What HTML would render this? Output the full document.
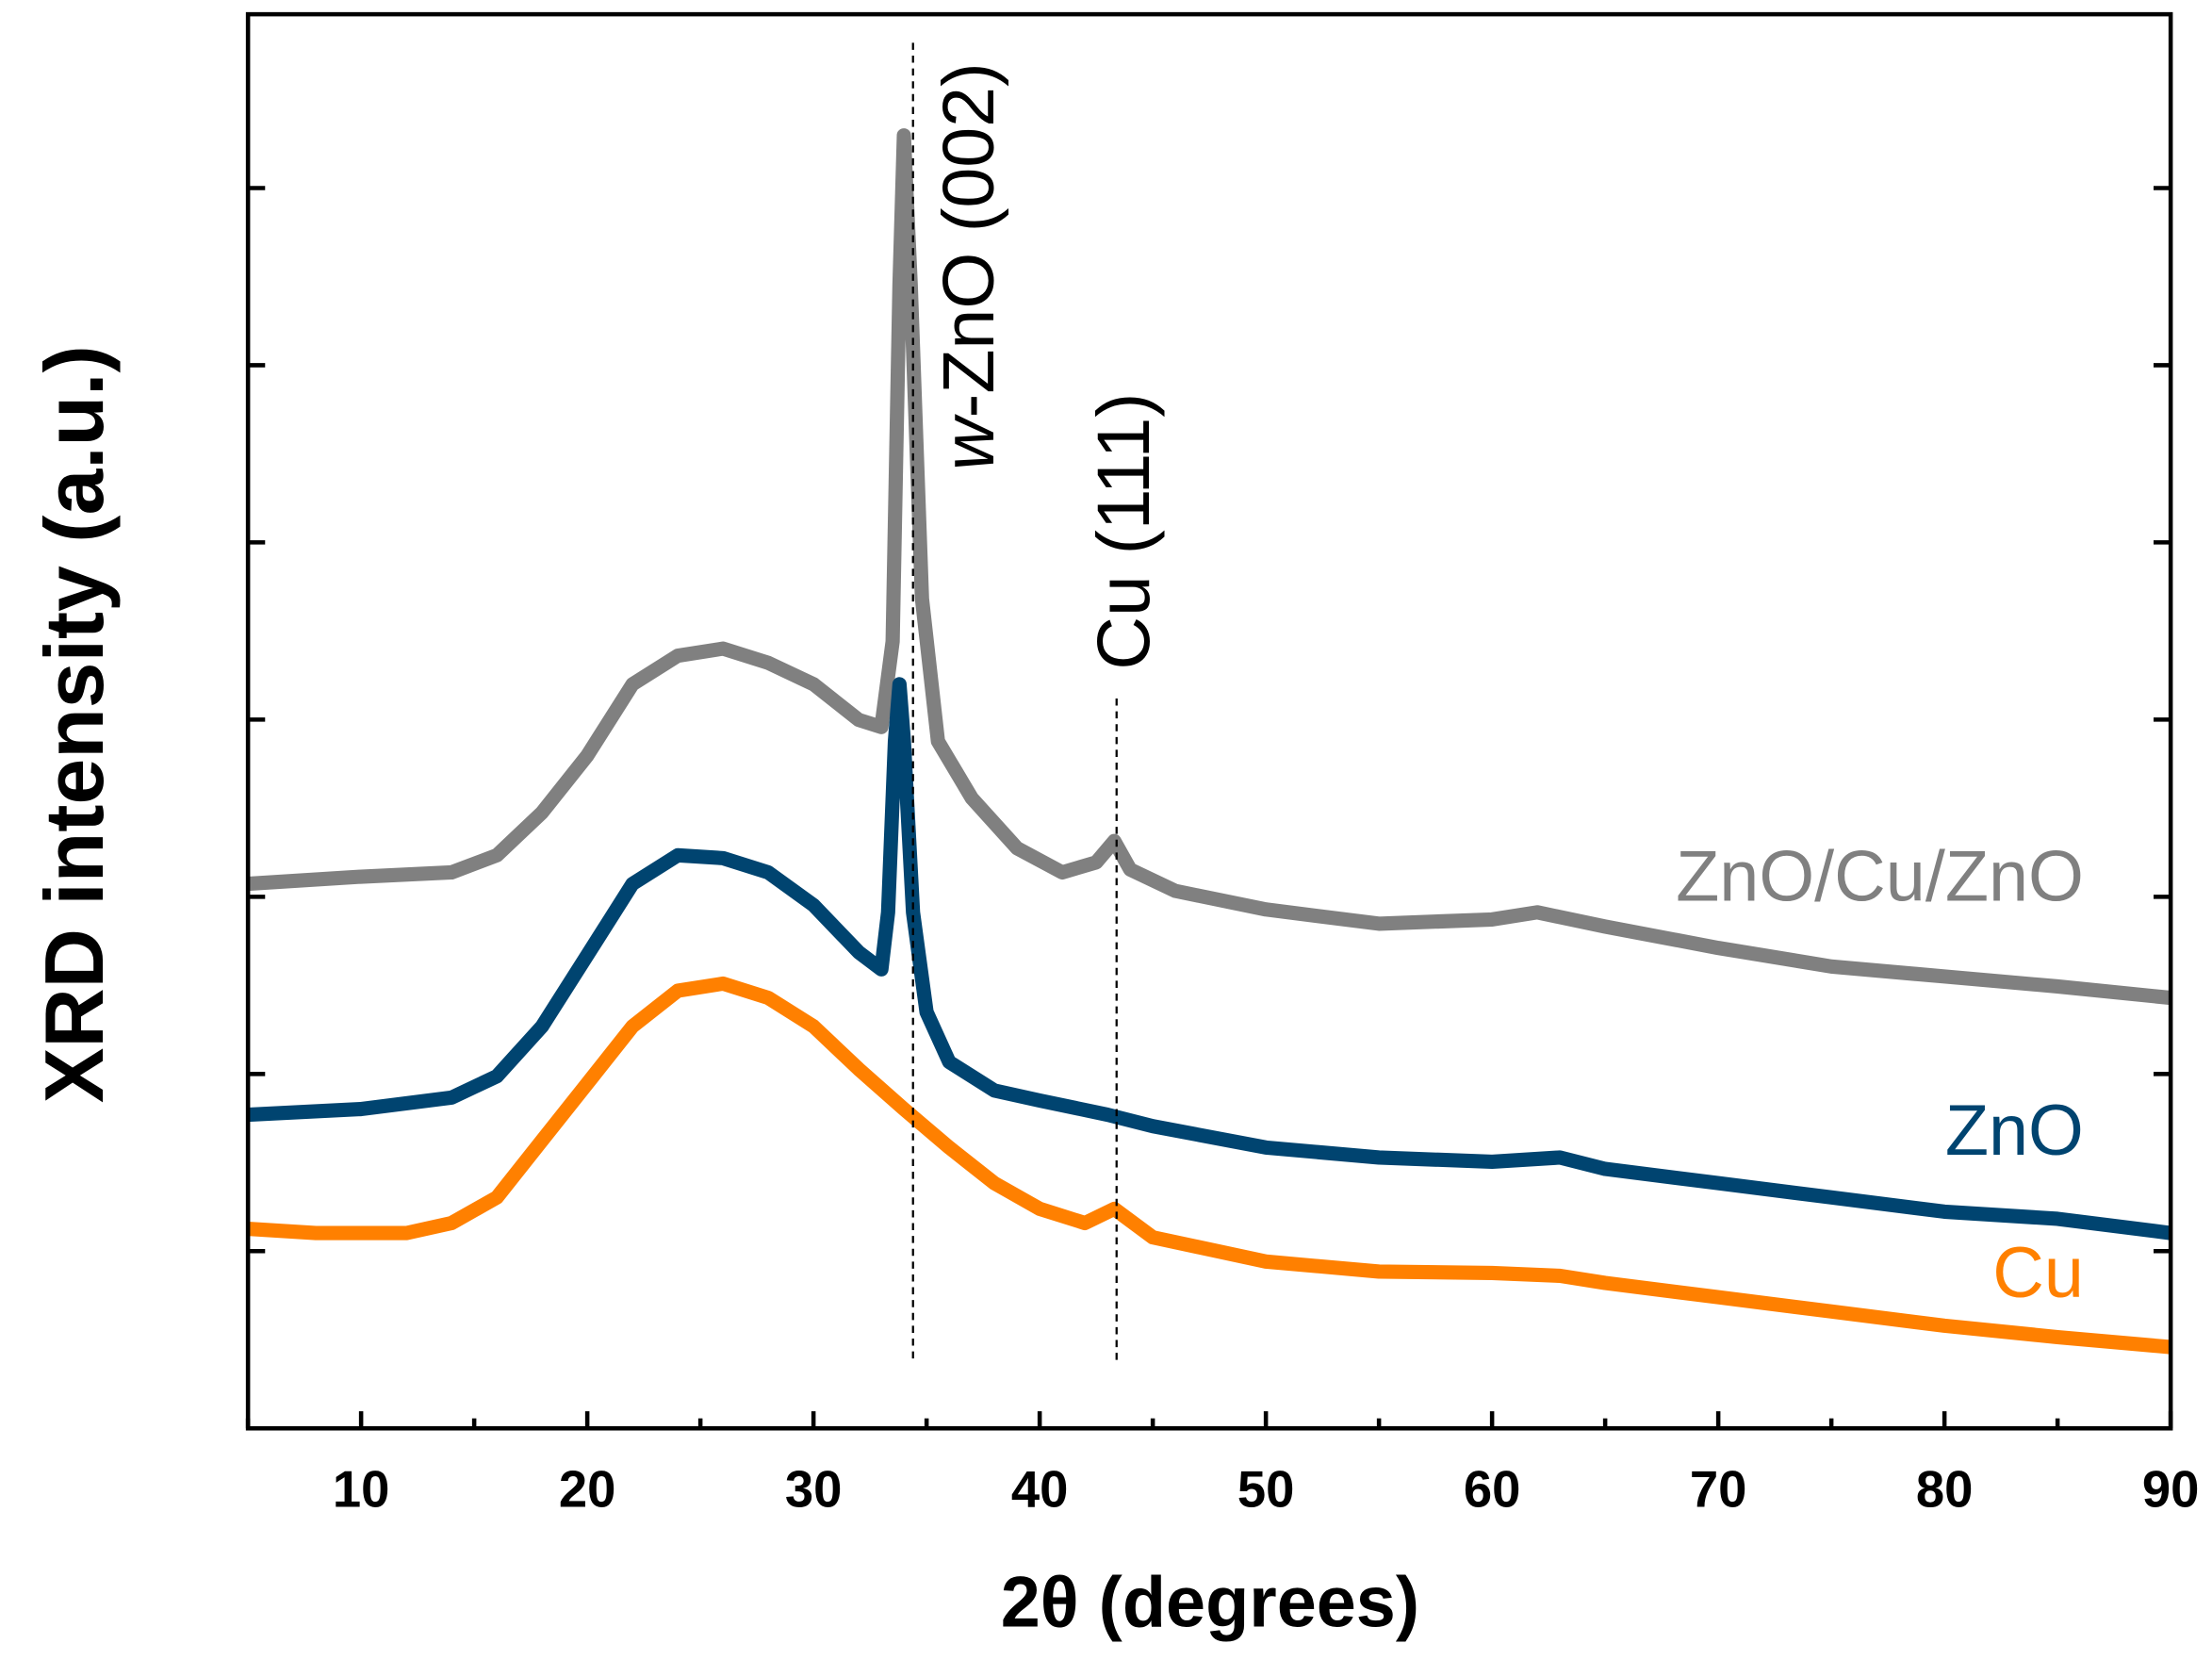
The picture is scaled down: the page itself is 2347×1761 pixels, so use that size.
<!DOCTYPE html>
<html><head><meta charset="utf-8"><style>
html,body{margin:0;padding:0;background:#fff}
svg{display:block}
text{font-family:"Liberation Sans",Arial,sans-serif}
</style></head><body>
<svg id="chart" width="2347" height="1761" viewBox="0 0 1552 1164.5" xmlns="http://www.w3.org/2000/svg">
<g id="series"></g>
<g id="axes"></g>
<text transform="translate(697,330) rotate(-90)" font-size="51" fill="#000"><tspan font-style="italic">w</tspan>-ZnO (002)</text>
<text transform="translate(806,470) rotate(-90)" font-size="52" fill="#000">Cu (111)</text>
<text x="1462" y="632" text-anchor="end" font-size="50" fill="#808080">ZnO/Cu/ZnO</text>
<text x="1462" y="810" text-anchor="end" font-size="50" fill="#004470">ZnO</text>
<text x="1462" y="910" text-anchor="end" font-size="50" fill="#ff8000">Cu</text>
<text x="849" y="1141" text-anchor="middle" font-size="50" font-weight="bold">2θ (degrees)</text>
<text transform="translate(72,508) rotate(-90)" text-anchor="middle" font-size="58" font-weight="bold">XRD intensity (a.u.)</text>
</svg>
<script>
const xTicks=[10,20,30,40,50,60,70,80,90];
const xMinor=[5,15,25,35,45,55,65,75,85];
const yTicks=[1,2,3,4,5,6,7];
const grayX=[5,10,14,16,18,20,22,24,26,28,30,32,33,33.5,33.8,34,34.3,34.8,35.5,37,39,41,42.5,43.3,44,46,50,55,60,62,65,70,75,80,85,90];
const grayY=[620,615,612,600,570,530,480,460,455,465,480,505,510,450,200,95,200,420,520,560,595,612,605,590,610,625,638,648,645,640,650,665,678,685,692,700].map(v=>(1002-v)/124.3);
const blueX=[5,10,14,16,18,20,22,24,26,28,30,32,33,33.3,33.6,33.8,34,34.4,35,36,38,40,43,45,50,55,60,63,65,70,75,80,85,90];
const blueY=[782,778,770,755,720,670,620,600,602,612,635,668,680,640,520,480,520,640,710,745,765,772,782,790,805,812,815,812,820,830,840,850,855,865].map(v=>(1002-v)/124.3);
const orangeX=[5,8,12,14,16,18,20,22,24,26,28,30,32,34,36,38,40,42,43.3,45,50,55,60,63,65,70,75,80,85,90];
const orangeY=[862,865,865,858,840,800,760,720,695,690,700,720,750,778,805,830,848,858,848,868,885,892,893,895,900,910,920,930,938,945].map(v=>(1002-v)/124.3);
const L=174,R=1523,T=10,B=1002;
const sx=x=>L+(x-5)*(R-L)/85;
const sy=y=>B-y*124.3;
const NS="http://www.w3.org/2000/svg";
const sg=document.getElementById('series'),ag=document.getElementById('axes');
function mk(tag,at,p){const e=document.createElementNS(NS,tag);for(const k in at)e.setAttribute(k,at[k]);p.appendChild(e);return e;}
function line(xs,ys,col,name){
 const d=xs.map((x,i)=>(i?'L':'M')+sx(x).toFixed(1)+','+sy(ys[i]).toFixed(1)).join('');
 const p=mk('path',{d:d,fill:'none',stroke:col,'stroke-width':10,'stroke-linejoin':'round'},sg);
 
 
}
line(grayX,grayY,'#808080','series-zno-cu-zno');
line(blueX,blueY,'#004470','series-zno');
line(orangeX,orangeY,'#ff8000','series-cu');
const d1=mk('line',{x1:sx(34.4),x2:sx(34.4),y1:30,y2:955,stroke:'#000','stroke-width':1.5,'stroke-dasharray':'5,4'},ag);


const d2=mk('line',{x1:sx(43.4),x2:sx(43.4),y1:490,y2:955,stroke:'#000','stroke-width':1.5,'stroke-dasharray':'5,4'},ag);


const fr=mk('rect',{x:L,y:T,width:R-L,height:B-T,fill:'none',stroke:'#000','stroke-width':3},ag);


xTicks.forEach(v=>{
 const t=mk('line',{x1:sx(v),x2:sx(v),y1:B,y2:B-12,stroke:'#000','stroke-width':3},ag);
 
 
 const tx=mk('text',{x:sx(v),y:1057,'text-anchor':'middle','font-size':36,'font-weight':'bold'},ag);
 tx.textContent=v;
 
 
});
xMinor.forEach(v=>{
 const t=mk('line',{x1:sx(v),x2:sx(v),y1:B,y2:B-7,stroke:'#000','stroke-width':3},ag);
 
 
});
yTicks.forEach(v=>{
 const a=mk('line',{x1:L,x2:L+12,y1:sy(v),y2:sy(v),stroke:'#000','stroke-width':3},ag);
 
 
 const b=mk('line',{x1:R,x2:R-12,y1:sy(v),y2:sy(v),stroke:'#000','stroke-width':3},ag);
 
 
});
</script>
</body></html>
